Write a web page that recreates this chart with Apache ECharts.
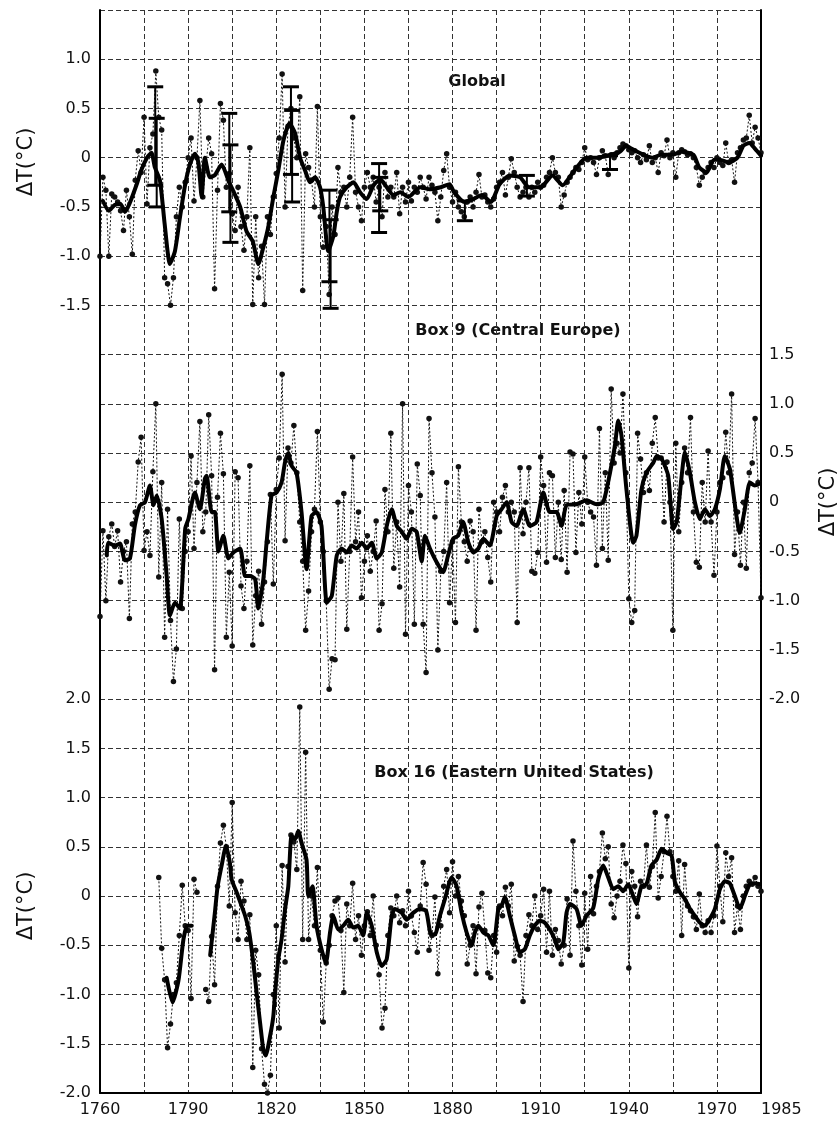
<!DOCTYPE html>
<html>
<head>
<meta charset="utf-8">
<script src="https://cdn.jsdelivr.net/npm/echarts@6/dist/echarts.min.js"></script>
<style>
html,body{margin:0;padding:0;background:#fff;}
#chart{width:839px;height:1124px;}
</style>
</head>
<body>
<div id="chart"></div>
<script>
// ---------------- DATA ----------------
const firstYear = 1760;
const lastYear = 1985;
const xTickLabels = ['1760','1790','1820','1850','1880','1910','1940','1970','1985'];

// Global annual anomalies 1760..1985
const globalAnnual = [
 -1.0,-0.2,-0.33,-1.0,-0.37,-0.4,-0.45,-0.54,-0.74,-0.33,
 -0.6,-0.98,-0.23,0.07,-0.15,0.41,-0.47,0.1,0.24,0.88,
 0.41,0.28,-1.22,-1.28,-1.5,-1.22,-0.6,-0.3,-0.5,-0.25,
 0.0,0.2,-0.44,0.0,0.58,-0.4,-0.1,0.2,0.04,-1.33,
 -0.33,0.55,0.38,-0.3,-0.16,-0.57,-0.74,-0.3,-0.7,-0.94,
 -0.6,0.1,-1.49,-0.6,-1.22,-0.9,-1.49,-0.6,-0.78,-0.4,
 -0.16,0.2,0.85,-0.5,0.32,0.5,0.2,0.0,0.62,-1.35,
 0.04,-0.1,-0.23,-0.5,0.52,-0.6,-0.91,-0.7,-1.39,-0.5,
 -0.78,-0.1,-0.35,-0.3,-0.5,-0.2,0.41,-0.35,-0.5,-0.64,
 -0.3,-0.15,-0.3,-0.2,-0.45,-0.3,-0.6,-0.15,-0.4,-0.3,
 -0.4,-0.15,-0.57,-0.3,-0.45,-0.25,-0.44,-0.3,-0.35,-0.2,
 -0.3,-0.42,-0.2,-0.28,-0.35,-0.64,-0.4,-0.13,0.04,-0.3,
 -0.45,-0.35,-0.5,-0.55,-0.6,-0.45,-0.4,-0.5,-0.35,-0.17,
 -0.4,-0.38,-0.45,-0.5,-0.42,-0.3,-0.25,-0.15,-0.38,-0.2,
 -0.01,-0.15,-0.3,-0.4,-0.35,-0.3,-0.4,-0.3,-0.35,-0.25,
 -0.3,-0.28,-0.2,-0.15,0.0,-0.15,-0.2,-0.5,-0.38,-0.25,
 -0.2,-0.15,-0.1,-0.12,-0.05,0.1,-0.02,0.0,-0.05,-0.17,
 0.0,0.07,0.02,-0.17,0.03,0.0,0.05,0.1,0.14,0.12,
 0.08,0.05,0.07,0.0,-0.05,0.03,-0.02,0.12,-0.05,0.0,
 -0.15,0.05,0.02,0.18,0.0,0.05,-0.2,0.05,0.08,0.06,
 0.03,0.04,0.0,-0.1,-0.28,-0.2,-0.15,-0.1,-0.05,-0.1,
 0.0,-0.05,-0.08,0.15,-0.05,-0.02,-0.25,0.05,0.1,0.18,
 0.2,0.43,0.15,0.31,0.2,0.05
];

// Global smoothed curve [year, value]
const globalSmooth = [
 [1761,-0.44],[1763,-0.54],[1765,-0.48],[1767,-0.47],[1768.5,-0.55],[1770,-0.47],[1772.5,-0.27],[1774,-0.13],
 [1776,0.0],[1777.5,0.05],[1778.7,-0.1],[1780.4,-0.23],[1782,-0.67],[1783.8,-1.08],[1785.5,-0.95],[1787.2,-0.61],
 [1789,-0.27],[1790.6,-0.07],[1792.3,0.04],[1793.5,-0.05],[1794.6,-0.4],[1795.7,0.0],[1797.4,-0.2],[1799,-0.18],
 [1801.4,-0.07],[1803.7,-0.23],[1805.4,-0.34],[1807.7,-0.5],[1809.9,-0.75],[1812,-0.85],[1813.9,-1.08],[1815.6,-0.91],
 [1817.3,-0.7],[1819,-0.4],[1820.7,-0.13],[1822.4,0.17],[1824.5,0.35],[1826.4,0.25],[1828.1,0.0],[1829.8,-0.13],
 [1831.5,-0.25],[1833.2,-0.2],[1834.9,-0.3],[1836,-0.5],[1837.7,-0.95],[1839.4,-0.8],[1840.6,-0.55],[1841.7,-0.4],
 [1844,-0.3],[1846.3,-0.25],[1848.5,-0.35],[1850.8,-0.42],[1853.1,-0.28],[1855.4,-0.22],[1857.6,-0.3],[1859.9,-0.38],
 [1862.2,-0.35],[1865,-0.4],[1869,-0.3],[1872,-0.32],[1876,-0.3],[1879,-0.27],[1880.5,-0.35],[1884,-0.45],
 [1887,-0.42],[1890,-0.38],[1893,-0.45],[1896,-0.27],[1899.5,-0.18],[1903,-0.2],[1906,-0.3],[1910,-0.3],
 [1914,-0.18],[1917.5,-0.28],[1921,-0.15],[1925.5,0.0],[1929,0.0],[1932.5,0.02],[1937,0.06],[1939,0.12],
 [1941,0.09],[1945,0.03],[1948,0.0],[1951,0.03],[1955,0.03],[1958,0.06],[1962,0.03],[1964,-0.1],
 [1966.5,-0.15],[1969,-0.02],[1971,-0.02],[1974,-0.05],[1977,0.0],[1979,0.12],[1981,0.15],[1983,0.09],[1985,0.02]
];

// Global error bars [year, low, high]
const globalErrorBars = [
 [1778.8,-0.28,0.72],[1779.3,-0.5,0.4],
 [1804.0,-0.55,0.45],[1804.4,-0.86,0.13],
 [1825.0,-0.17,0.72],[1825.4,-0.45,0.48],
 [1838.1,-1.26,-0.33],[1838.5,-1.53,-0.63],
 [1855.0,-0.76,-0.06],[1855.4,-0.54,-0.2],
 [1884.2,-0.64,-0.44],
 [1905.3,-0.39,-0.18],
 [1933.6,-0.12,0.02]
];

// Box 9 (Central Europe) annual anomalies 1760..1985
const ceAnnual = [
 -1.16,-0.29,-1.0,-0.35,-0.22,-0.45,-0.29,-0.81,-0.5,-0.4,
 -1.18,-0.22,-0.1,0.41,0.66,-0.49,-0.3,-0.54,0.31,1.0,
 -0.76,0.2,-1.37,-0.07,-1.2,-1.82,-1.49,-0.17,-1.08,-0.5,
 -0.3,0.47,-0.47,0.2,0.82,-0.3,-0.1,0.89,0.27,-1.7,
 0.05,0.7,0.29,-1.37,-0.71,-1.46,0.31,0.25,-0.85,-1.08,
 -0.6,0.37,-1.45,-0.95,-0.7,-1.24,-0.81,-0.4,0.08,-0.83,
 0.13,0.45,1.3,-0.39,0.55,0.4,0.78,0.3,-0.2,-0.6,
 -1.3,-0.9,-0.3,-0.07,0.72,-0.2,-0.5,-1.0,-1.9,-1.59,
 -1.6,0.0,-0.6,0.09,-1.29,-0.5,0.46,-0.4,-0.1,-0.97,
 -0.6,-0.34,-0.7,-0.5,-0.19,-1.3,-1.03,0.13,-0.3,0.7,
 -0.67,-0.2,-0.86,1.0,-1.34,0.17,-0.1,-1.24,0.39,0.07,
 -1.24,-1.73,0.85,0.3,-0.15,-1.5,-0.7,-0.5,0.2,-1.02,
 -0.4,-1.22,0.36,-0.2,-0.4,-0.6,-0.19,-0.3,-1.3,-0.07,
 -0.4,-0.3,-0.56,-0.81,0.0,-0.1,-0.3,0.05,0.17,-0.1,
 0.0,-0.1,-1.22,0.35,-0.32,0.0,0.35,-0.7,-0.72,-0.51,
 0.46,0.17,-0.61,0.3,0.27,-0.56,0.0,-0.58,0.12,-0.71,
 0.51,0.49,-0.51,0.1,-0.22,0.46,0.0,-0.1,-0.15,-0.64,
 0.75,-0.47,0.3,-0.59,1.15,0.4,0.6,0.5,1.1,0.3,
 -0.98,-1.22,-1.1,0.7,0.44,0.1,0.3,0.12,0.6,0.86,
 0.45,0.45,-0.2,0.41,0.0,-1.3,0.6,-0.3,0.2,0.55,
 0.3,0.86,-0.1,-0.61,-0.66,0.2,-0.2,0.52,-0.2,-0.74,
 -0.1,0.2,0.25,0.71,0.3,1.1,-0.53,-0.1,-0.64,0.0,
 -0.67,0.3,0.4,0.85,0.2,-0.97
];

// Box 9 smoothed curve
const ceSmooth = [
 [1762.3,-0.54],[1762.8,-0.41],[1765.1,-0.44],[1766.8,-0.42],[1768.5,-0.59],[1770.2,-0.57],[1771.9,-0.23],[1773.6,-0.03],
 [1775.3,0.0],[1777,0.17],[1778.2,-0.03],[1779.3,0.07],[1781,-0.17],[1782.7,-0.75],[1783.8,-1.15],[1785.5,-1.02],
 [1787.2,-1.08],[1789,-0.27],[1790.1,-0.17],[1792.3,0.1],[1794,-0.07],[1795.7,0.24],[1796.3,0.27],[1798,-0.1],
 [1799.1,-0.1],[1800.3,-0.5],[1802,-0.34],[1803.7,-0.57],[1805.4,-0.51],[1807.7,-0.47],[1809.4,-0.75],[1811.1,-0.75],
 [1812.8,-0.78],[1813.9,-1.08],[1815.6,-0.78],[1816.7,-0.41],[1818.4,0.07],[1820.1,0.1],[1821.8,0.2],[1823,0.41],
 [1824.1,0.5],[1825.2,0.37],[1826.9,0.3],[1828.6,-0.1],[1830.3,-0.68],[1832,-0.14],[1833.7,-0.1],[1835.4,-0.24],
 [1837.2,-1.02],[1838.9,-0.95],[1840.6,-0.54],[1842.3,-0.47],[1844,-0.51],[1845.7,-0.44],[1847.4,-0.47],[1849.1,-0.41],
 [1850.8,-0.47],[1852.5,-0.41],[1854.2,-0.57],[1855.9,-0.51],[1857.6,-0.24],[1859.3,-0.07],[1861,-0.24],[1862.7,-0.3],
 [1864.4,-0.37],[1866.1,-0.27],[1867.8,-0.3],[1869.5,-0.6],[1870.6,-0.34],[1872.3,-0.47],[1874.6,-0.61],[1876.8,-0.71],
 [1878.5,-0.54],[1880.2,-0.37],[1881.9,-0.34],[1883.6,-0.2],[1885.4,-0.41],[1887.1,-0.51],[1888.8,-0.47],[1890.5,-0.37],
 [1892.7,-0.44],[1895,-0.14],[1896.7,-0.07],[1898.4,0.0],[1900.1,-0.2],[1901.8,-0.24],[1904.1,-0.07],[1906.3,-0.24],
 [1908.6,-0.2],[1910.9,0.1],[1913.1,-0.1],[1915.4,-0.1],[1917.1,-0.24],[1918.8,-0.03],[1922.2,-0.02],[1925.6,0.02],
 [1929,-0.02],[1931.3,0.0],[1933.6,0.3],[1935.3,0.58],[1936.4,0.83],[1937.5,0.68],[1939.2,0.13],[1941.5,-0.41],
 [1942.6,-0.34],[1944.3,0.13],[1946,0.3],[1948.3,0.4],[1949.5,0.47],[1951.2,0.44],[1953.4,0.27],[1955.1,-0.27],
 [1956.3,-0.2],[1958,0.27],[1959.1,0.51],[1960.8,0.3],[1962.5,0.0],[1964.2,-0.17],[1965.9,-0.07],[1967.6,-0.14],
 [1969.3,-0.07],[1971,0.13],[1972.7,0.47],[1974.4,0.34],[1975.1,0.2],[1977.8,-0.31],[1979.5,-0.07],[1981.2,0.2],
 [1982.9,0.17],[1984.6,0.19]
];

// Box 16 (Eastern United States) annual anomalies 1760..1985 (null = no data)
const eusAnnual = [
 null,null,null,null,null,null,null,null,null,null,
 null,null,null,null,null,null,null,null,null,null,
 0.19,-0.53,-0.85,-1.54,-1.3,-1.0,-0.88,-0.4,0.11,-0.3,
 -0.35,-1.04,0.17,0.04,null,null,-0.95,-1.07,-0.41,-0.9,
 0.1,0.54,0.72,0.5,-0.1,0.95,-0.17,-0.44,0.15,-0.05,
 -0.44,-0.19,-1.74,-0.55,-0.8,-1.55,-1.91,-2.0,-1.82,-1.0,
 -0.3,-1.34,0.31,-0.67,0.3,0.62,0.55,0.27,1.92,-0.44,
 1.46,-0.44,0.0,-0.3,0.29,-0.55,-1.28,-0.68,-0.5,-0.2,
 -0.05,-0.02,-0.35,-0.98,-0.08,-0.3,0.13,-0.44,-0.2,-0.6,
 -0.3,-0.16,-0.4,0.0,-0.5,-0.8,-1.34,-1.14,-0.4,-0.12,
 -0.2,0.0,-0.27,-0.15,-0.3,0.05,-0.2,-0.37,-0.57,-0.1,
 0.34,0.12,-0.55,-0.4,-0.01,-0.79,-0.3,0.1,0.27,-0.17,
 0.35,0.0,0.2,-0.05,-0.2,-0.69,-0.5,-0.3,-0.79,-0.11,
 0.03,-0.35,-0.78,-0.83,-0.4,-0.57,-0.1,-0.2,0.09,-0.1,
 0.12,-0.66,-0.51,-0.6,-1.07,-0.4,-0.19,-0.3,0.0,-0.34,
 -0.2,0.07,-0.57,0.05,-0.6,-0.34,-0.45,-0.69,-0.5,-0.03,
 -0.6,0.56,0.05,-0.3,-0.7,0.03,-0.54,0.2,-0.18,0.1,
 0.25,0.64,0.38,0.5,-0.08,-0.22,0.0,0.15,0.52,0.33,
 -0.73,0.25,0.1,-0.21,0.15,0.1,0.52,0.09,0.3,0.85,
 -0.02,0.2,0.45,0.81,0.45,0.2,0.05,0.36,-0.4,0.32,
 -0.1,-0.15,-0.21,-0.34,0.02,-0.3,-0.37,-0.25,-0.37,-0.2,
 0.51,0.1,-0.26,0.44,0.2,0.39,-0.37,-0.1,-0.34,0.0,
 0.1,0.15,0.12,0.19,0.1,0.05
];

// Box 16 smoothed curve (null = gap)
const eusSmooth = [
 [1782.7,-0.83],[1784.7,-1.08],[1786.7,-0.86],[1788.4,-0.44],[1789.7,-0.3],[1791.2,-0.3],[1794,null],
 [1797.5,-0.6],[1799.1,-0.17],[1800,0.09],[1801.4,0.31],[1802.9,0.51],[1804.2,0.34],[1804.8,0.17],[1806.5,0.04],
 [1808.2,-0.1],[1809.4,-0.2],[1810.8,-0.37],[1812.2,-0.68],[1813.3,-0.98],[1814.5,-1.29],[1815.6,-1.56],[1816.4,-1.62],
 [1817.9,-1.42],[1819,-1.22],[1819.6,-0.98],[1820.7,-0.64],[1821.8,-0.44],[1823,-0.13],[1824.1,0.1],[1825.2,0.61],
 [1826.4,0.58],[1827.5,0.66],[1828.6,0.54],[1830.3,0.37],[1830.9,0.0],[1832.3,0.1],[1833.7,-0.3],[1835.4,-0.54],
 [1836.9,-0.68],[1838.3,-0.37],[1839.4,-0.2],[1841.1,-0.34],[1842.8,-0.3],[1844.5,-0.24],[1846.2,-0.32],[1847.9,-0.3],
 [1849.6,-0.4],[1850.8,-0.17],[1852.5,-0.3],[1854.2,-0.57],[1855.9,-0.71],[1857.6,-0.64],[1859.3,-0.2],[1860.4,-0.13],
 [1862.7,-0.17],[1864.4,-0.24],[1866.6,-0.17],[1868.9,-0.13],[1871,-0.15],[1872.5,-0.38],[1874,-0.39],[1875.7,-0.2],
 [1877.4,-0.03],[1879.7,0.19],[1881.4,0.1],[1883.1,-0.17],[1884.8,-0.37],[1886.5,-0.5],[1887.6,-0.37],[1888.8,-0.3],
 [1890.5,-0.37],[1892.2,-0.4],[1893.9,-0.5],[1895.6,-0.13],[1896.7,-0.1],[1897.8,-0.01],[1899.5,-0.2],[1901.2,-0.4],
 [1902.9,-0.57],[1904.6,-0.54],[1906.3,-0.4],[1908,-0.3],[1909.7,-0.25],[1911.4,-0.27],[1913.1,-0.34],[1914.8,-0.44],
 [1916,-0.54],[1917.7,-0.47],[1918.8,-0.17],[1920,-0.08],[1922.2,-0.13],[1923.9,-0.3],[1925.6,-0.2],[1927.9,-0.12],
 [1929.6,0.17],[1931.3,0.31],[1933,0.19],[1934.7,0.07],[1936.4,0.1],[1938.1,0.05],[1939.8,0.12],[1941.5,0.0],
 [1942.6,-0.08],[1944.3,0.1],[1946,0.12],[1947.7,0.31],[1949.5,0.37],[1951.2,0.48],[1952.9,0.44],[1954.6,0.41],
 [1955.7,0.14],[1957.4,0.04],[1959.1,-0.03],[1960.8,-0.13],[1962.5,-0.2],[1964.2,-0.27],[1965.9,-0.3],[1967.6,-0.23],
 [1969.3,-0.13],[1971,0.07],[1972.7,0.15],[1974.4,0.13],[1976.1,0.0],[1977.8,-0.13],[1979.5,0.0],[1981.2,0.12],
 [1982.9,0.13],[1984.6,0.12]
];

// Axis label ranges shown for each panel
const globalTicks = ['1.0','0.5','0','-0.5','-1.0','-1.5'];
const ceTicks = ['1.5','1.0','0.5','0','-0.5','-1.0','-1.5','-2.0'];
const eusTicks = ['2.0','1.5','1.0','0.5','0','-0.5','-1.0','-1.5','-2.0'];

// ---------------- CHART ----------------
const toPairs = arr => arr.map((v, i) => [firstYear + i, v]);
const fmt = v => { const r = Math.round(v * 10) / 10; return r === 0 ? '0' : r.toFixed(1); };
const labelIn = list => v => (list.indexOf(fmt(v)) >= 0 ? fmt(v) : '');

const FONT = 'DejaVu Sans';
const ink = '#111';
const gridDash = { color: '#333', width: 1, type: [5, 3] };

function annualSeries(name, data, yIdx) {
  return {
    name, type: 'line', xAxisIndex: 0, yAxisIndex: yIdx, data,
    symbol: 'circle', symbolSize: 5.5, showAllSymbol: true, connectNulls: false,
    lineStyle: { color: ink, width: 1, type: [2, 2] },
    itemStyle: { color: ink }, z: 3
  };
}
function smoothSeries(name, data, yIdx) {
  return {
    name, type: 'line', xAxisIndex: 0, yAxisIndex: yIdx, data,
    symbol: 'none', connectNulls: false, smooth: 0.2,
    lineStyle: { color: '#000', width: 4, join: 'round', cap: 'round' }, z: 5
  };
}

const chart = echarts.init(document.getElementById('chart'), null, { renderer: 'canvas' });
chart.setOption({
  animation: false,
  backgroundColor: '#fff',
  grid: { left: 100, right: 78, top: 10, bottom: 31, containLabel: false },
  xAxis: [
    { type: 'value', min: firstYear, max: lastYear, show: false },
    { type: 'value', min: 0, max: lastYear - firstYear, interval: 15, position: 'bottom',
      axisLine: { show: true, onZero: false, lineStyle: { color: '#000', width: 2 } },
      axisTick: { show: false },
      axisLabel: { color: ink, fontFamily: FONT, fontSize: 16, margin: 9,
        showMinLabel: true, showMaxLabel: true, alignMaxLabel: 'left',
        formatter: v => { const s = String(firstYear + Math.round(v)); return xTickLabels.indexOf(s) >= 0 ? s : ''; } },
      splitLine: { show: true, lineStyle: gridDash } }
  ],
  yAxis: [
    { type: 'value', position: 'left', min: -9.5, max: 1.5, interval: 0.5,
      axisLine: { show: true, onZero: false, lineStyle: { color: '#000', width: 2 } },
      axisTick: { show: false },
      axisLabel: { color: ink, fontFamily: FONT, fontSize: 16, margin: 9, showMinLabel: true, showMaxLabel: true,
        formatter: labelIn(globalTicks) },
      splitLine: { show: true, lineStyle: gridDash } },
    { type: 'value', position: 'right', min: -6, max: 5, interval: 0.5,
      axisLine: { show: true, onZero: false, lineStyle: { color: '#000', width: 2 } },
      axisTick: { show: false },
      axisLabel: { color: ink, fontFamily: FONT, fontSize: 16, margin: 8, formatter: labelIn(ceTicks) },
      splitLine: { show: false } },
    { type: 'value', position: 'left', min: -2, max: 9, interval: 0.5,
      axisLine: { show: false },
      axisTick: { show: false },
      axisLabel: { color: ink, fontFamily: FONT, fontSize: 16, margin: 9, showMinLabel: true, formatter: labelIn(eusTicks) },
      splitLine: { show: false } }
  ],
  graphic: [
    { type: 'text', x: 477, y: 82, style: { text: 'Global', font: 'bold 16px "DejaVu Sans"', fill: ink, textAlign: 'center', textVerticalAlign: 'middle' } },
    { type: 'text', x: 518, y: 331, style: { text: 'Box 9 (Central Europe)', font: 'bold 16px "DejaVu Sans"', fill: ink, textAlign: 'center', textVerticalAlign: 'middle' } },
    { type: 'text', x: 514, y: 773, style: { text: 'Box 16 (Eastern United States)', font: 'bold 16px "DejaVu Sans"', fill: ink, textAlign: 'center', textVerticalAlign: 'middle' } },
    { type: 'text', x: 27, y: 162, rotation: Math.PI / 2, style: { text: 'ΔT(°C)', font: '21px "DejaVu Sans"', fill: ink, textAlign: 'center', textVerticalAlign: 'middle' } },
    { type: 'text', x: 829, y: 502, rotation: Math.PI / 2, style: { text: 'ΔT(°C)', font: '21px "DejaVu Sans"', fill: ink, textAlign: 'center', textVerticalAlign: 'middle' } },
    { type: 'text', x: 27, y: 906, rotation: Math.PI / 2, style: { text: 'ΔT(°C)', font: '21px "DejaVu Sans"', fill: ink, textAlign: 'center', textVerticalAlign: 'middle' } }
  ],
  series: [
    annualSeries('Global annual', toPairs(globalAnnual), 0),
    smoothSeries('Global smoothed', globalSmooth, 0),
    {
      name: 'Global error', type: 'custom', xAxisIndex: 0, yAxisIndex: 0, data: globalErrorBars, z: 6,
      encode: { x: 0, y: [1, 2] },
      renderItem: (params, api) => {
        const x = api.value(0), lo = api.value(1), hi = api.value(2);
        const p1 = api.coord([x, lo]), p2 = api.coord([x, hi]);
        const w = 8;
        const st = { stroke: '#000', lineWidth: 2 };
        return { type: 'group', children: [
          { type: 'line', shape: { x1: p1[0], y1: p1[1], x2: p2[0], y2: p2[1] }, style: st },
          { type: 'line', shape: { x1: p1[0] - w, y1: p1[1], x2: p1[0] + w, y2: p1[1] }, style: { stroke: '#000', lineWidth: 3 } },
          { type: 'line', shape: { x1: p2[0] - w, y1: p2[1], x2: p2[0] + w, y2: p2[1] }, style: { stroke: '#000', lineWidth: 3 } }
        ] };
      }
    },
    annualSeries('Box 9 annual', toPairs(ceAnnual), 1),
    smoothSeries('Box 9 smoothed', ceSmooth, 1),
    annualSeries('Box 16 annual', toPairs(eusAnnual), 2),
    smoothSeries('Box 16 smoothed', eusSmooth, 2)
  ]
});
</script>
</body>
</html>
